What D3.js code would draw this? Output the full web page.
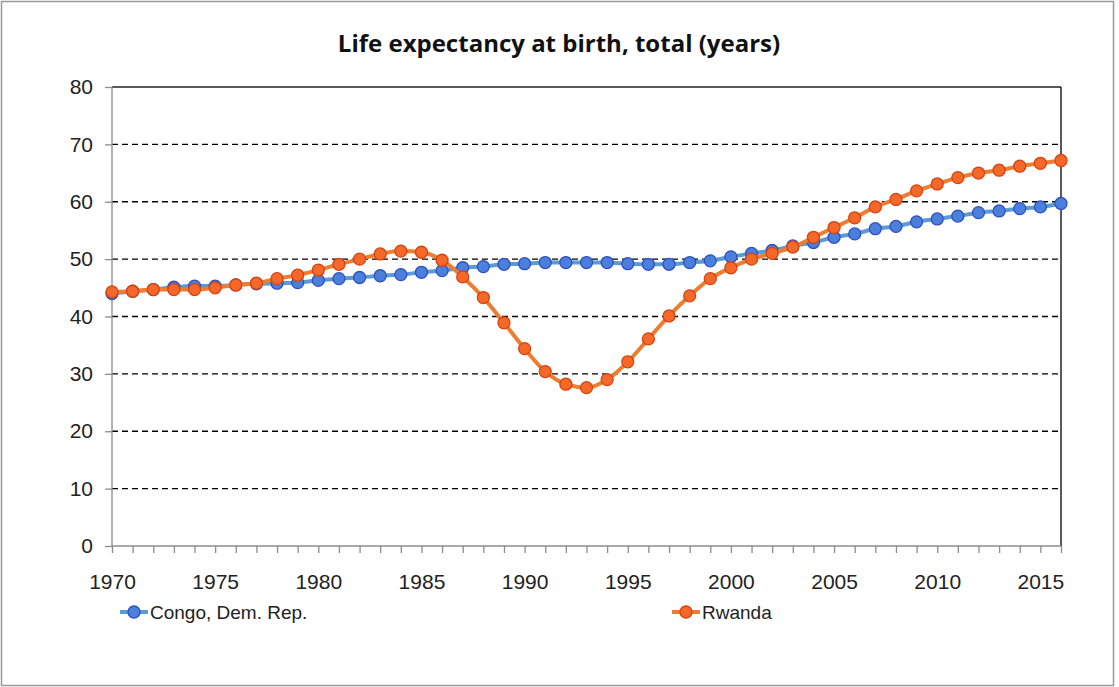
<!DOCTYPE html>
<html>
<head>
<meta charset="utf-8">
<script src="https://cdn.jsdelivr.net/npm/d3@7"></script>
<style>
  body { margin: 0; background: #fff; }
  svg { display: block; font-family: "Liberation Sans", Arial, sans-serif; }
</style>
</head>
<body>
<div id="chart"></div>
<script>
const WIDTH = 1119;
const HEIGHT = 687;
const MARGIN = { top: 87, right: 58, bottom: 141, left: 112 };

const YEARS = d3.range(1970, 2017);
const CONGO = [
  44.0, 44.4, 44.7, 45.1, 45.3, 45.3, 45.5, 45.7, 45.8, 45.9,
  46.3, 46.6, 46.8, 47.1, 47.3, 47.7, 48.0, 48.5, 48.7, 49.1,
  49.2, 49.4, 49.4, 49.4, 49.4, 49.2, 49.1, 49.1, 49.4, 49.7,
  50.4, 51.0, 51.5, 52.3, 52.9, 53.8, 54.4, 55.3, 55.7, 56.5,
  57.0, 57.5, 58.1, 58.4, 58.8, 59.1, 59.7
];
const RWANDA = [
  44.3, 44.4, 44.7, 44.7, 44.7, 45.0, 45.5, 45.8, 46.6, 47.2,
  48.1, 49.1, 50.0, 50.9, 51.4, 51.2, 49.8, 46.9, 43.3, 38.9,
  34.4, 30.4, 28.2, 27.6, 29.0, 32.1, 36.1, 40.1, 43.6, 46.6,
  48.5, 50.0, 51.0, 52.1, 53.8, 55.5, 57.2, 59.1, 60.4, 61.9,
  63.1, 64.2, 65.0, 65.5, 66.2, 66.7, 67.2
];
const SERIES_NAMES = ['Congo, Dem. Rep.', 'Rwanda'];
const Y_TICKS = [0, 10, 20, 30, 40, 50, 60, 70, 80];
const X_LABELS = [1970, 1975, 1980, 1985, 1990, 1995, 2000, 2005, 2010, 2015];

const LINE_COLORS = ['#5b9bd5', '#ed7d31'];
const MARKER_FILL = ['#4a7fdc', '#f4692a'];
const MARKER_STROKE = ['#2f4fc0', '#d8420f'];

const svg = d3.select('#chart')
  .append('svg')
  .attr('width', WIDTH)
  .attr('height', HEIGHT);

// outer frame
svg.append('rect')
  .attr('x', 1.5).attr('y', 1.5)
  .attr('width', WIDTH - 7).attr('height', HEIGHT - 3)
  .attr('fill', '#fff')
  .attr('stroke', '#9a9a9a')
  .attr('stroke-width', 1.5);

const x = d3.scaleLinear()
  .domain([1970, 2016])
  .range([MARGIN.left, WIDTH - MARGIN.right]);
const y = d3.scaleLinear()
  .domain([0, 80])
  .range([HEIGHT - MARGIN.bottom, MARGIN.top]);

// dashed gridlines
svg.append('g')
  .selectAll('line')
  .data(Y_TICKS.filter(d => d > 0 && d < 80))
  .enter()
  .append('line')
  .attr('x1', x(1970)).attr('x2', x(2016))
  .attr('y1', d => y(d)).attr('y2', d => y(d))
  .attr('stroke', '#000')
  .attr('stroke-width', 1.3)
  .attr('stroke-dasharray', '6,4');

// top and right borders of plot area
svg.append('line')
  .attr('x1', x(1970)).attr('x2', x(2016))
  .attr('y1', y(80)).attr('y2', y(80))
  .attr('stroke', '#222').attr('stroke-width', 1.3);
svg.append('line')
  .attr('x1', x(2016)).attr('x2', x(2016))
  .attr('y1', y(80)).attr('y2', y(0))
  .attr('stroke', '#222').attr('stroke-width', 1.5);

// y axis
const yAxis = d3.axisLeft(y)
  .tickValues(Y_TICKS)
  .tickSize(7)
  .tickPadding(12);
const yG = svg.append('g')
  .attr('transform', `translate(${x(1970)}, 0)`)
  .call(yAxis);
yG.selectAll('line, path').attr('stroke', '#8c8c8c').attr('stroke-width', 1.3);
yG.select('.domain').attr('d', `M0,${y(80)}V${y(0)}`);
yG.selectAll('text')
  .style('font-size', '21px')
  .attr('fill', '#222');

// x axis, a tick every year
const xAxis = d3.axisBottom(x)
  .tickValues(YEARS)
  .tickSize(7)
  .tickPadding(21)
  .tickFormat(d => X_LABELS.includes(d) ? d : '');
const xG = svg.append('g')
  .attr('transform', `translate(0, ${y(0)})`)
  .call(xAxis);
xG.selectAll('line, path').attr('stroke', '#8c8c8c').attr('stroke-width', 1.3);
xG.select('.domain').attr('d', `M${x(1970)},0H${x(2016)}`);
xG.selectAll('text')
  .style('font-size', '21px')
  .attr('fill', '#222');

// series
const seriesData = [CONGO, RWANDA];
const line = d3.line()
  .x((d, i) => x(YEARS[i]))
  .y(d => y(d))
  .curve(d3.curveMonotoneX);

seriesData.forEach((values, s) => {
  svg.append('path')
    .datum(values)
    .attr('d', line)
    .attr('fill', 'none')
    .attr('stroke', LINE_COLORS[s])
    .attr('stroke-width', 4)
    .attr('stroke-linejoin', 'round');
  svg.append('g')
    .selectAll('circle')
    .data(values)
    .enter()
    .append('circle')
    .attr('cx', (d, i) => x(YEARS[i]))
    .attr('cy', d => y(d))
    .attr('r', 6)
    .attr('fill', MARKER_FILL[s])
    .attr('stroke', MARKER_STROKE[s])
    .attr('stroke-width', 1.3);
});

// title
svg.append('text')
  .attr('x', 559)
  .attr('y', 52)
  .style('font-family', '"Open Sans", sans-serif')
  .style('font-size', '24px')
  .style('font-weight', 'bold')
  .style('text-anchor', 'middle')
  .attr('fill', '#111')
  .text('Life expectancy at birth, total (years)');

// legend
const LEGEND_X = [120, 672];
const legendY = 612;
SERIES_NAMES.forEach((name, s) => {
  const g = svg.append('g').attr('transform', `translate(${LEGEND_X[s]}, ${legendY})`);
  g.append('line')
    .attr('x1', 0).attr('x2', 28)
    .attr('stroke', LINE_COLORS[s])
    .attr('stroke-width', 4);
  g.append('circle')
    .attr('cx', 14).attr('r', 6)
    .attr('fill', MARKER_FILL[s])
    .attr('stroke', MARKER_STROKE[s])
    .attr('stroke-width', 1.3);
  g.append('text')
    .attr('x', 30)
    .attr('y', 7)
    .style('font-size', '19px')
    .attr('fill', '#222')
    .text(name);
});
</script>
</body>
</html>
